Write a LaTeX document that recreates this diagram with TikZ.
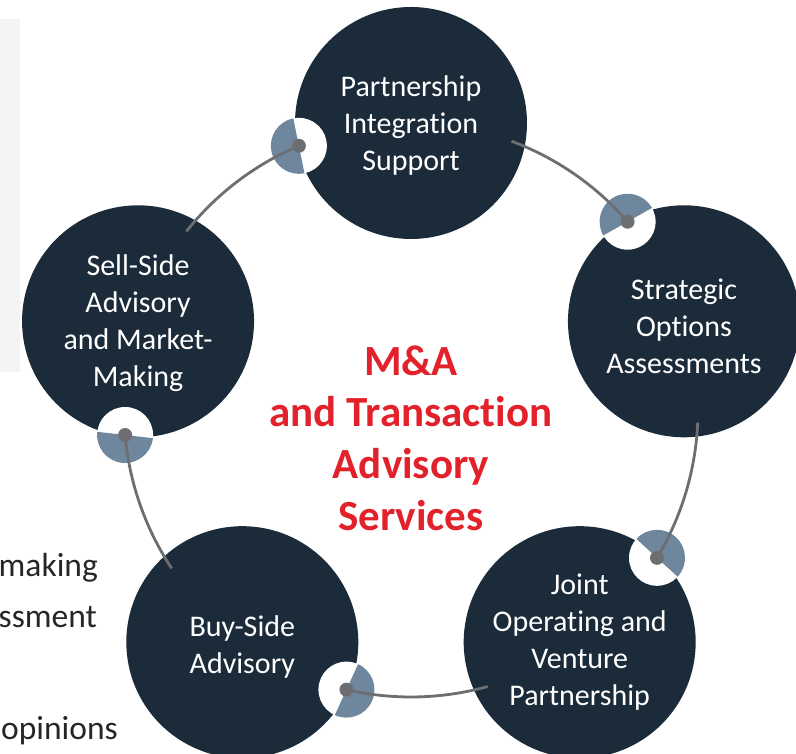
\documentclass[tikz,border=0pt]{standalone}
\usepackage{fontspec}
\setmainfont{Carlito}[Ligatures={NoCommon,NoContextual}]
\usetikzlibrary{calc}
\definecolor{navy}{HTML}{1B2B3A}
\definecolor{slate}{HTML}{6F879C}
\definecolor{linegray}{HTML}{6D6E71}
\definecolor{accent}{HTML}{E2212B}
\definecolor{panel}{HTML}{F3F4F4}
\definecolor{bodytext}{HTML}{262626}
\begin{document}
\begin{tikzpicture}[x=1pt,y=1pt,
  bubble/.style={circle, fill=navy, minimum size=232pt, inner sep=0pt},
  bubbletext/.style={text=white, align=center, inner sep=0pt, font=\fontsize{30}{37}\selectfont},
  link/.style={draw=linegray, line width=2.8pt},
  markerbg/.style={fill=white},
  markerhalf/.style={fill=slate},
  markerdot/.style={fill=linegray},
  titletext/.style={text=accent, align=center, font=\fontsize{43}{51.7}\selectfont\bfseries},
  fragment/.style={text=bodytext, anchor=base east, inner sep=0pt, font=\fontsize{33.5}{40}\selectfont}]
\useasboundingbox (0,0) rectangle (796,754);
\fill[panel] (0,382) rectangle (20,735);
\coordinate (O) at (411,344);

% main circles
\node[bubble] (n1) at ($(O)+(90:287)$) {};
\node[bubble] (n2) at ($(O)+(162:287)$) {};
\node[bubble] (n3) at ($(O)+(234:287)$) {};
\node[bubble] (n4) at ($(O)+(306:287)$) {};
\node[bubble] (n5) at ($(O)+(18:287)$) {};
\node[bubbletext] (t1) at ([yshift=-3pt]n1.center) {Partnership\\Integration\\Support};
\node[bubbletext] (t2) at ([yshift=-2pt]n2.center) {Sell-Side\\Advisory\\and Market-\\Making};
\node[bubbletext] (t3) at ([yshift=-5pt]n3.center) {Buy-Side\\Advisory};
\node[bubbletext] (t4) at (n4.center) {Joint\\Operating and\\Venture\\Partnership};
\node[bubbletext] (t5) at ([yshift=-5pt]n5.center) {Strategic\\Options\\Assessments};

% markers and connecting arcs
\foreach \a/\n in {90/1,162/2,234/3,306/4,18/5} {
  \coordinate (m\n) at ($(O)+(\a+23:287)$);
  \fill[markerbg] (m\n) circle[radius=28];
  \fill[markerhalf] (m\n) -- ++(\a+11.5:28) arc[start angle=\a+11.5, delta angle=180, radius=28] -- cycle;
  \draw[link] (m\n) arc[start angle=\a+23, end angle=\a+51.5, radius=287];
  \fill[markerdot] (m\n) circle[radius=7];
}

% centre title
\node[titletext] (title) at (411,316) {M\&A\\and Transaction\\Advisory\\Services};

% clipped text fragments at the left
\node[fragment] (f1) at (98,177) {making};
\node[fragment] (f2) at (97,126) {ssment};
\node[fragment] (f3) at (118,14) {opinions};
\end{tikzpicture}
\end{document}
